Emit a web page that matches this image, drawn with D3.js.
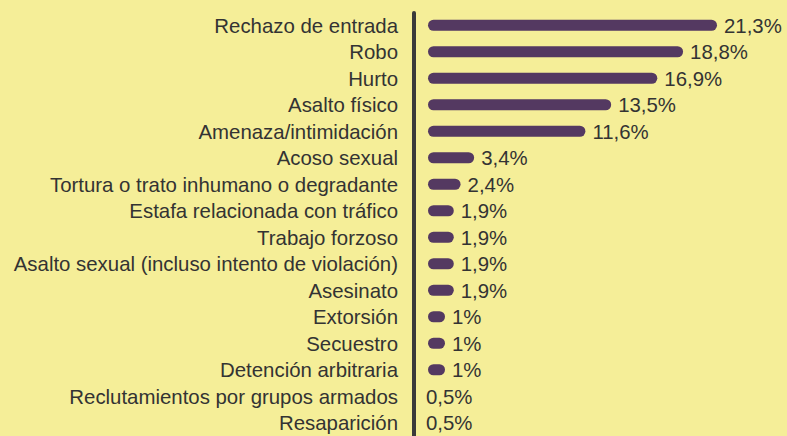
<!DOCTYPE html>
<html>
<head>
<meta charset="utf-8">
<script src="https://cdn.jsdelivr.net/npm/d3@7"></script>
<style>
  body { margin: 0; background: #f5ee98; }
  svg { display: block; }
  text { font-family: "Liberation Sans", Arial, sans-serif; fill: #333333; }
</style>
</head>
<body>
<div id="chart"></div>
<script>
const categories = [
	"Rechazo de entrada", "Robo", "Hurto ", "Asalto físico", "Amenaza/intimidación",
	"Acoso sexual", "Tortura o trato inhumano o degradante", "Estafa relacionada con tráfico",
	"Trabajo forzoso", "Asalto sexual (incluso intento de violación)", "Asesinato",
	"Extorsión", "Secuestro", "Detención arbitraria", "Reclutamientos por grupos armados",
	"Resaparición"
];
const values = [21.3, 18.8, 16.9, 13.5, 11.6, 3.4, 2.4, 1.9, 1.9, 1.9, 1.9, 1, 1, 1, 0.5, 0.5];
const labels = ["21,3%", "18,8%", "16,9%", "13,5%", "11,6%", "3,4%", "2,4%", "1,9%", "1,9%",
	"1,9%", "1,9%", "1%", "1%", "1%", "0,5%", "0,5%"];

function drawChart() {
	var width = 787, height = 436;
	var data = categories.map((c, i) => ({name: c, value: values[i], label: labels[i]}));

	var svg = d3.select("#chart").append("svg")
		.attr("width", width)
		.attr("height", height);

	svg.append("rect")
		.attr("width", width).attr("height", height)
		.attr("fill", "#f5ee98");

	var x = d3.scaleLinear().domain([0, 21.3]).range([428, 717]);
	var y = d3.scaleBand().domain(categories).range([12, 436]).padding(0);

	var barH = 11;

	// axis line
	svg.append("line")
		.attr("x1", 414).attr("x2", 414)
		.attr("y1", 13).attr("y2", height + 5)
		.attr("stroke", "#3a3a3a")
		.attr("stroke-width", 4)
		.attr("stroke-linecap", "round");

	var row = svg.append("g").selectAll("g")
		.data(data)
		.enter().append("g")
		.attr("transform", d => "translate(0," + (y(d.name) + y.bandwidth() / 2) + ")");

	// bars (values under 1% are not drawn in the source)
	row.filter(d => d.value >= 1).append("line")
		.attr("x1", x(0) + barH / 2)
		.attr("x2", d => Math.max(x(d.value) - barH / 2, x(0) + barH / 2 + 6))
		.attr("y1", 0).attr("y2", 0)
		.attr("stroke", "#543961")
		.attr("stroke-width", barH)
		.attr("stroke-linecap", "round");

	row.append("text")
		.attr("x", 398)
		.attr("y", 0)
		.attr("dy", "0.36em")
		.attr("text-anchor", "end")
		.style("font-size", "20.4px")
		.text(d => d.name);

	row.append("text")
		.attr("x", d => d.value >= 1 ? Math.max(x(d.value), x(0) + barH + 6) + 7 : 426)
		.attr("y", 0)
		.attr("dy", "0.36em")
		.style("font-size", "20.4px")
		.text(d => d.label);
}

drawChart();
</script>
</body>
</html>
